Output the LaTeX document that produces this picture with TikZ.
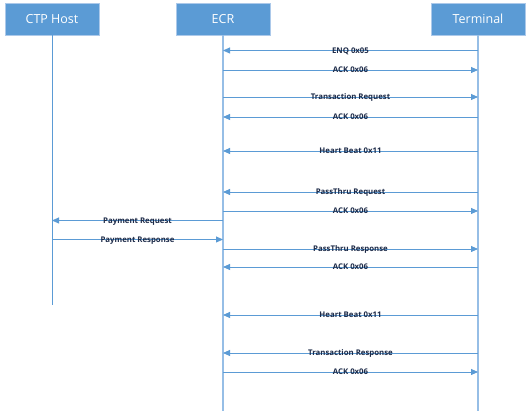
\documentclass[tikz,border=0pt]{standalone}
\usepackage{fontspec}
\setmainfont{Open Sans}
\usetikzlibrary{arrows.meta}
\definecolor{boxFill}{RGB}{91,155,213}
\definecolor{boxEdge}{RGB}{172,201,234}
\definecolor{lifeColor}{RGB}{150,190,230}
\definecolor{msgColor}{RGB}{91,155,213}
\definecolor{lblColor}{RGB}{28,42,72}
\begin{document}
\begin{tikzpicture}[x=1pt,y=-1pt,
  actor/.style={draw=boxEdge,line width=0.8pt,fill=boxFill,text=white,minimum width=94pt,minimum height=32pt,inner sep=0pt,font=\fontsize{12.5}{14}\selectfont},
  life/.style={draw=lifeColor,line width=1.1pt},
  msg/.style={draw=msgColor,line width=0.8pt,-{Triangle[length=7pt,width=6pt]}},
  lbl/.style={text=lblColor,inner sep=0pt,anchor=mid,font=\bfseries\fontsize{7.8}{9}\selectfont}]
\definecolor{fillColor}{RGB}{255,255,255}
\path[use as bounding box,fill=fillColor] (0,0) rectangle (531,411);

\node[actor] (host) at (52,19) {CTP Host};
\node[actor] (ecr) at (223,19) {ECR};
\node[actor] (term) at (478,19) {Terminal};

\coordinate (hostEnd) at (52,305);
\coordinate (ecrEnd) at (223,411);
\coordinate (termEnd) at (478,411);

\draw[life,draw=msgColor,line width=0.9pt] (host) -- (hostEnd);
\draw[life] (ecr) -- (ecrEnd);
\draw[life] (term) -- (termEnd);

\foreach \y/\from/\to/\txt [count=\i] in {
    50.5/term/ecr/ENQ 0x05,
    70/ecr/term/ACK 0x06,
    97/ecr/term/Transaction Request,
    117/term/ecr/ACK 0x06,
    151/term/ecr/Heart Beat 0x11,
    192/term/ecr/PassThru Request,
    211/ecr/term/ACK 0x06,
    220.5/ecr/host/Payment Request,
    239.5/host/ecr/Payment Response,
    249/ecr/term/PassThru Response,
    267/term/ecr/ACK 0x06,
    315/term/ecr/Heart Beat 0x11,
    353/term/ecr/Transaction Response,
    372/ecr/term/ACK 0x06}{
  \coordinate (lvl\i) at (0,\y);
  \coordinate (src\i) at (\from.center |- lvl\i);
  \coordinate (dst\i) at (\to.center |- lvl\i);
  \draw[msg] (src\i) -- node[lbl] {\txt} (dst\i);
}
\end{tikzpicture}
\end{document}
